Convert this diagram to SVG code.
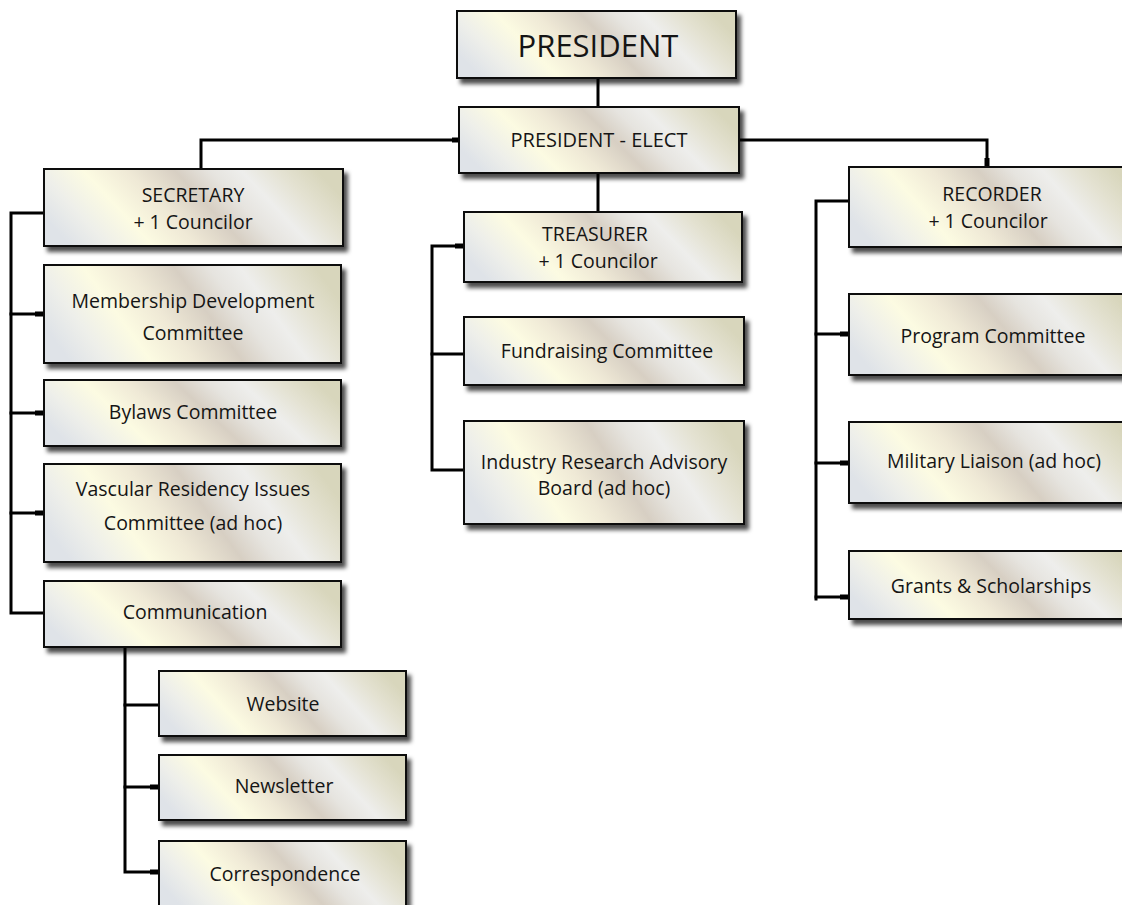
<svg xmlns="http://www.w3.org/2000/svg" width="1122" height="905" viewBox="0 0 1122 905">
<defs>
<linearGradient id="metal" x1="0" y1="0.62" x2="1" y2="0.38">
<stop offset="0" stop-color="#dfe3e8"/>
<stop offset="0.12" stop-color="#eeefea"/>
<stop offset="0.26" stop-color="#fcfbe2"/>
<stop offset="0.4" stop-color="#efe9d6"/>
<stop offset="0.55" stop-color="#d7cfc3"/>
<stop offset="0.66" stop-color="#e6e4df"/>
<stop offset="0.76" stop-color="#eeeeec"/>
<stop offset="0.88" stop-color="#e4e2d2"/>
<stop offset="1" stop-color="#d8d6bc"/>
</linearGradient>
<filter id="shadow" x="-10%" y="-20%" width="130%" height="160%">
<feDropShadow dx="4" dy="5" stdDeviation="2.2" flood-color="#000" flood-opacity="0.7"/>
</filter>
</defs>
<style>
.box{fill:url(#metal);stroke:#111;stroke-width:2;filter:url(#shadow);}
.t{font-family:"Open Sans","Noto Sans","Liberation Sans",sans-serif;font-size:19.5px;fill:#151515;text-anchor:middle;}
.big{font-size:31px;}
.pe{font-size:20px;}
.ln{fill:none;stroke:#000;stroke-width:3;stroke-linecap:square;}
.stub{fill:none;stroke:#000;stroke-width:5;}
</style>
<g id="connectors">
<path class="ln" d="M598 78V107"/>
<path class="ln" d="M598 173V212"/>
<path class="ln" d="M459 140H201V169"/>
<path class="ln" d="M739 140H987V167"/>
<path class="stub" d="M452 140H459"/>
<path class="stub" d="M987 158V167"/>
<path class="ln" d="M44 213H11V613H44"/>
<path class="ln" d="M11 314H44M11 413H44M11 513H44"/>
<path class="stub" d="M35 314H44M35 413H44M35 513H44"/>
<path class="ln" d="M464 246H432V470H464"/>
<path class="ln" d="M432 354H464"/>
<path class="stub" d="M455 246H464"/>
<path class="ln" d="M849 201H816V599"/>
<path class="ln" d="M816 334H849M816 463H849M816 597H849"/>
<path class="stub" d="M840 334H849M840 463H849M840 597H849"/>
<path class="ln" d="M125 647V872H159"/>
<path class="ln" d="M125 705H159M125 787H159"/>
<path class="stub" d="M150 787H159M150 872H159"/>
</g>
<g id="president">
<rect class="box" x="457" y="11" width="279" height="67"/>
<text class="t big" x="598" y="57">PRESIDENT</text>
</g>
<g id="president-elect">
<rect class="box" x="459" y="107" width="280" height="66"/>
<text class="t pe" x="599" y="147">PRESIDENT - ELECT</text>
</g>
<g id="secretary">
<rect class="box" x="44" y="169" width="299" height="77"/>
<text class="t" x="193" y="202">SECRETARY</text>
<text class="t" x="193" y="229">+ 1 Councilor</text>
</g>
<g id="membership">
<rect class="box" x="44" y="265" width="297" height="98"/>
<text class="t" x="193" y="308">Membership Development</text>
<text class="t" x="193" y="340">Committee</text>
</g>
<g id="bylaws">
<rect class="box" x="44" y="380" width="297" height="66"/>
<text class="t" x="193" y="419">Bylaws Committee</text>
</g>
<g id="vascular">
<rect class="box" x="44" y="464" width="297" height="98"/>
<text class="t" x="193" y="496">Vascular Residency Issues</text>
<text class="t" x="193" y="530">Committee (ad hoc)</text>
</g>
<g id="communication">
<rect class="box" x="44" y="581" width="297" height="66"/>
<text class="t" x="195" y="619">Communication</text>
</g>
<g id="website">
<rect class="box" x="159" y="671" width="247" height="65"/>
<text class="t" x="283" y="711">Website</text>
</g>
<g id="newsletter">
<rect class="box" x="159" y="755" width="247" height="65"/>
<text class="t" x="284" y="793">Newsletter</text>
</g>
<g id="correspondence">
<rect class="box" x="159" y="841" width="247" height="66"/>
<text class="t" x="285" y="881">Correspondence</text>
</g>
<g id="treasurer">
<rect class="box" x="464" y="212" width="278" height="70"/>
<text class="t" x="595" y="241">TREASURER</text>
<text class="t" x="598" y="268">+ 1 Councilor</text>
</g>
<g id="fundraising">
<rect class="box" x="464" y="317" width="280" height="68"/>
<text class="t" x="607" y="358">Fundraising Committee</text>
</g>
<g id="industry">
<rect class="box" x="464" y="421" width="280" height="103"/>
<text class="t" x="604" y="469">Industry Research Advisory</text>
<text class="t" x="604" y="495">Board (ad hoc)</text>
</g>
<g id="recorder">
<rect class="box" x="849" y="167" width="291" height="80"/>
<text class="t" x="992" y="201">RECORDER</text>
<text class="t" x="988" y="228">+ 1 Councilor</text>
</g>
<g id="program">
<rect class="box" x="849" y="294" width="291" height="81"/>
<text class="t" x="993" y="343">Program Committee</text>
</g>
<g id="military">
<rect class="box" x="849" y="422" width="291" height="81"/>
<text class="t" x="994" y="468">Military Liaison (ad hoc)</text>
</g>
<g id="grants">
<rect class="box" x="849" y="551" width="291" height="68"/>
<text class="t" x="991" y="593">Grants &amp; Scholarships</text>
</g>
</svg>
